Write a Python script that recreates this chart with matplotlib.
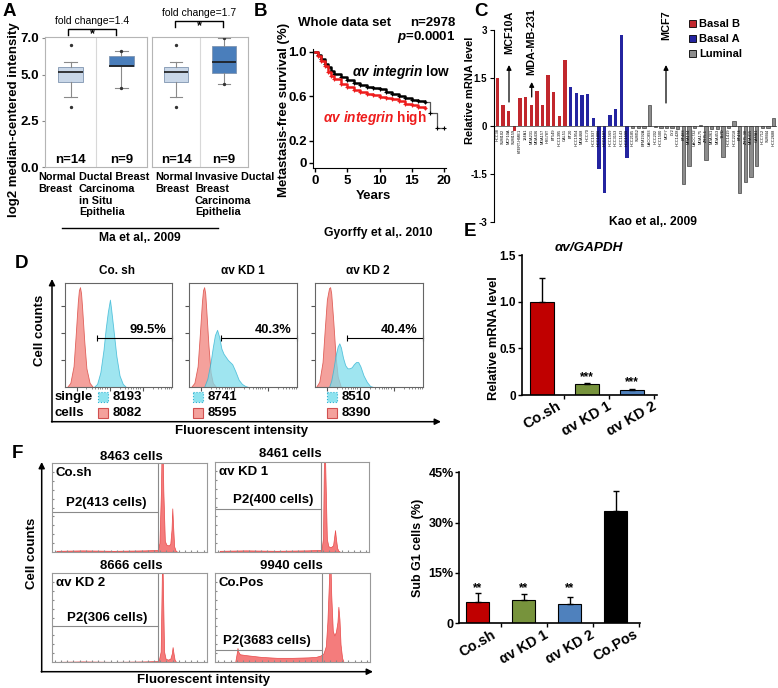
import matplotlib
matplotlib.use('Agg')
import numpy as np
import matplotlib.pyplot as plt
from matplotlib.patches import Rectangle

plt.rcParams['font.family'] = ['Liberation Sans', 'DejaVu Sans']
plt.rcParams['font.weight'] = 'bold'
plt.rcParams['axes.labelweight'] = 'bold'
plt.rcParams['mathtext.fontset'] = 'custom'
plt.rcParams['mathtext.it'] = 'Liberation Sans:italic:bold'
plt.rcParams['mathtext.rm'] = 'Liberation Sans:bold'
plt.rcParams['mathtext.bf'] = 'Liberation Sans:bold'

# ---- A: Ma et al. 2009, box stats
a_labels = ['Normal\nBreast', 'Ductal Breast\nCarcinoma\nin Situ\nEpithelia',
            'Normal\nBreast', 'Invasive Ductal\nBreast\nCarcinoma\nEpithelia']
a_n = ['n=14', 'n=9', 'n=14', 'n=9']
a_med = [5.13, 5.46, 5.13, 5.67]
a_q1 = [4.60, 5.46, 4.60, 5.08]
a_q3 = [5.44, 6.03, 5.44, 6.57]
a_lo = [3.79, 4.27, 3.79, 4.50]
a_hi = [5.67, 6.30, 5.67, 7.00]
a_out = [[6.62, 3.25], [6.30, 4.27], [6.62, 3.25], [7.00, 4.50]]
a_fold = ['fold change=1.4', 'fold change=1.7']

# ---- B: Kaplan-Meier (Gyorffy 2010)
b_t_low = [0, 0.5, 1, 1.5, 2, 2.5, 3, 4, 5, 6, 7, 8, 9, 10, 11, 12, 13, 14, 15, 16, 17, 17.8, 18.9, 20]
b_s_low = [1.0, 0.97, 0.93, 0.89, 0.86, 0.83, 0.80, 0.77, 0.745, 0.72, 0.70, 0.685, 0.67, 0.66,
           0.64, 0.62, 0.60, 0.58, 0.565, 0.555, 0.55, 0.445, 0.31, 0.31]
b_t_high = [0, 0.5, 1, 1.5, 2, 2.5, 3, 4, 5, 6, 7, 8, 9, 10, 11, 12, 13, 14, 15, 16, 17]
b_s_high = [1.0, 0.96, 0.92, 0.87, 0.82, 0.78, 0.75, 0.71, 0.68, 0.655, 0.635, 0.62, 0.61,
            0.595, 0.585, 0.57, 0.555, 0.53, 0.52, 0.50, 0.49]

# ---- C: Kao et al. 2009 cell lines
c_names_b = ['HCC38', 'SUM102', 'MCF10A', 'SUM159', 'hTERT-HME1', '184A1', 'MDA231', 'MDA436',
             'MDA157', 'HS578T', 'BT549', 'HCC1395', 'CAL51']
c_vals_b = [1.49, 0.65, 0.47, -0.15, 0.86, 0.90, 0.67, 1.08, 0.66, 1.58, 1.05, 0.31, 2.06]
c_names_a = ['BT20', 'HCC1954', 'MDA468', 'HCC70', 'HCC1937', 'HCC1806', 'HCC1187', 'HCC1569',
             'HCC3153', 'HCC1143', 'HCC1599']
c_vals_a = [1.21, 1.04, 0.96, 0.99, 0.26, -1.35, -2.10, 0.35, 0.54, 2.85, -0.99]
c_names_l = ['HCC2185', 'SUM52', 'EFM192A', 'UACC893', 'HCC202', 'HCC1500', 'MCF7', 'LY2',
             'HCC1428', 'BT483', 'MDA134', 'UACC732', 'MDA175', 'ZR75-1', 'MDA361', 'MDA453',
             'T47D', 'HCC1419', 'HCC2218', 'BT474', 'ZR75-30', 'MDA415', 'CAMA1', 'HCC712',
             'SUM44', 'HCC2688']
c_vals_l = [-0.05, -0.05, -0.05, 0.65, -0.03, -0.05, -0.05, -0.05, -0.10, -1.80, -1.25, -0.05,
            0.02, -1.07, -0.10, -0.10, -0.97, -0.05, 0.17, -2.08, -1.75, -1.58, -1.25, -0.05,
            -0.05, 0.26]

# ---- D: flow histograms (x, counts in % of frame)
d_titles = ['Co. sh', 'αv KD 1', 'αv KD 2']
d_gate = ['99.5%', '40.3%', '40.4%']
d_cyan_n = ['8193', '8741', '8510']
d_red_n = ['8082', '8595', '8390']
d_red_x = [[2, 5, 8, 10, 12, 13, 14, 15, 16, 18, 20, 23, 26],
           [2, 5, 8, 10, 12, 13, 14, 15, 16, 18, 20, 22, 25],
           [1, 4, 7, 9, 11, 13, 14, 15, 17, 19, 21, 24]]
d_red_y = [[0, 4, 20, 50, 82, 93, 96, 90, 76, 44, 18, 4, 0],
           [0, 4, 20, 50, 82, 93, 96, 90, 74, 40, 14, 4, 0],
           [0, 5, 24, 55, 84, 95, 96, 90, 62, 30, 10, 0]]
d_cyan_x = [[27, 30, 33, 36, 38, 40, 41, 42, 43, 45, 48, 51, 54, 57],
            [14, 17, 20, 22, 24, 26, 28, 30, 32, 34, 36, 38, 40, 43, 46, 49, 52, 55],
            [13, 15, 17, 19, 21, 22.5, 24, 26, 28, 30, 32, 34, 36, 38, 40, 42, 45, 48, 51, 54]]
d_cyan_y = [[0, 3, 14, 36, 56, 72, 78, 84, 76, 58, 30, 11, 3, 0],
            [0, 8, 24, 38, 50, 55, 48, 37, 32, 29, 26, 24, 22, 15, 7, 3, 1, 0],
            [0, 6, 17, 30, 39, 42, 38, 28, 21, 18, 18, 19, 22, 24, 24, 20, 11, 5, 1, 0]]

# ---- E: qPCR
e_groups = ['Co.sh', 'αv KD 1', 'αv KD 2']
e_vals = [1.0, 0.115, 0.05]
e_err = [0.25, 0.01, 0.018]
e_colors = ['#C00000', '#77933C', '#4F81BD']

# ---- F: cell cycle histograms
f_titles = ['8463 cells', '8461 cells', '8666 cells', '9940 cells']
f_names = ['Co.sh', 'αv KD 1', 'αv KD 2', 'Co.Pos']
f_p2 = ['P2(413 cells)', 'P2(400 cells)', 'P2(306 cells)', 'P2(3683 cells)']
f_hx = [[3, 20, 40, 60, 68.5, 69.5, 70.5, 71, 71.5, 72, 73, 74, 75.5, 76.5, 77.3, 77.8, 78.3, 79, 80, 81],
        [3, 20, 40, 60, 69, 70, 70.5, 71, 71.5, 72.5, 73.5, 75, 76.5, 77.2, 77.8, 78.4, 79.2, 80, 81],
        [3, 20, 40, 60, 69, 70.3, 71, 71.3, 71.7, 72.5, 73.5, 75, 76.5, 77.5, 78, 78.6, 79.3, 80, 81],
        [13, 14, 14.5, 15, 16, 20, 25, 30, 40, 50, 60, 65, 68, 70, 71.5, 72.5, 73.5, 74.2, 75, 76,
         77, 78, 79, 79.6, 80.3, 81, 82, 83]]
f_hy = [[1, 1.5, 1, 1.5, 2, 10, 70, 130, 130, 70, 12, 8, 7, 9, 25, 49, 30, 6, 1, 0],
        [1, 1.5, 1, 1.5, 2, 15, 90, 130, 90, 14, 6, 5, 7, 16, 24, 14, 4, 1, 0],
        [0.5, 1, 0.5, 1, 1.5, 12, 90, 130, 90, 12, 4, 3, 4, 10, 17, 10, 3, 1, 0],
        [0, 10, 16, 12, 9, 8, 7, 6, 5, 5, 5.5, 6, 7.5, 10, 18, 45, 90, 130, 75, 35, 30, 34, 45,
         62, 48, 20, 5, 0]]
f_gate_x = [68.8, 69.0, 68.8, 69.2]
f_gate_y = [45, 48, 40, 14]

# ---- F right: sub G1
f_groups = ['Co.sh', 'αv KD 1', 'αv KD 2', 'Co.Pos']
f_sub = [6.4, 6.9, 5.7, 33.6]
f_sub_err = [2.5, 1.8, 2.2, 5.8]
f_colors = ['#C00000', '#77933C', '#4F81BD', '#000000']

W, H = 778, 688
fig = plt.figure(figsize=(W / 100, H / 100), dpi=100)


def px_axes(x0, y0, x1, y1):
    return fig.add_axes([x0 / W, 1 - y1 / H, (x1 - x0) / W, (y1 - y0) / H])


# ================= A
box_fc = ['#c9d7e8', '#4a7ebb']
for k, (x0, x1) in enumerate([(45, 147), (152, 248)]):
    ax = px_axes(x0, 37, x1, 167)
    idx = [2 * k, 2 * k + 1]
    stats = [dict(med=a_med[j], q1=a_q1[j], q3=a_q3[j], whislo=a_lo[j], whishi=a_hi[j],
                  fliers=a_out[j]) for j in idx]
    bp = ax.bxp(stats, positions=[1, 2], widths=0.48, patch_artist=True,
                medianprops=dict(color='#1a1a1a', lw=1.2),
                whiskerprops=dict(color='#8a8a8a', lw=0.8),
                capprops=dict(color='#8a8a8a', lw=0.8),
                flierprops=dict(marker='o', ms=1.4, mfc='#333', mec='#333'))
    for p, c in zip(bp['boxes'], box_fc):
        p.set_facecolor(c)
        p.set_edgecolor('#7f95b0')
        p.set_linewidth(0.6)
    ax.axvline(1.5, color='#d8d8d8', lw=0.8)
    ax.set_xlim(0.5, 2.5)
    ax.set_ylim(0, 7.05)
    ax.set_xticks([])
    for sp in ax.spines.values():
        sp.set_color('#b5b5b5')
        sp.set_linewidth(0.8)
    for j, pos in zip(idx, (1, 2)):
        ax.text(pos, 0.08, a_n[j], ha='center', va='bottom', fontsize=9.5)
    if k == 0:
        ax.set_yticks([0, 2.5, 5, 7], ['0.0', '2.5', '5.0', '7.0'], fontsize=9.5)
        ax.tick_params(axis='y', length=2.5, color='#888', pad=2)
    else:
        ax.set_yticks([])

# ================= B
ax = px_axes(313, 49.5, 446, 168.3)
n_main = b_t_low.index(17) + 1
ax.step(b_t_low[:n_main], b_s_low[:n_main], where='post', color='k', lw=1.8)
ax.step(b_t_low[n_main - 1:], b_s_low[n_main - 1:], where='post', color='#555', lw=0.9)
ax.plot(b_t_low[1:], b_s_low[1:], '+', color='k', ms=3, mew=0.8)
ax.step(b_t_high, b_s_high, where='post', color='#ee1c1c', lw=1.8)
ax.plot(b_t_high[1:], b_s_high[1:], '+', color='#ee1c1c', ms=3, mew=0.8)
ax.set_xlim(-0.3, 20.3)
ax.set_ylim(-0.05, 1.02)
ax.set_yticks([0, 0.2, 0.6, 1.0], ['0', '0.2', '0.6', '1.0'])
ax.set_xticks([0, 5, 10, 15, 20])
ax.tick_params(labelsize=9.5, length=3, width=1, pad=1.5)
ax.spines['top'].set_visible(False)
ax.spines['right'].set_visible(False)

# ================= C
ax = px_axes(494, 30, 777, 222)
nb, na, nl = len(c_vals_b), len(c_vals_a), len(c_vals_l)
xb = np.arange(nb)
xa = np.arange(nb, nb + na)
xl = np.arange(nb + na, nb + na + nl)
ax.bar(xb, c_vals_b, width=0.6, color='#C1272D', label='Basal B')
ax.bar(xa, c_vals_a, width=0.6, color='#2424A0', label='Basal A')
ax.bar(xl, c_vals_l, width=0.6, color='#8c8c8c', edgecolor='#222', lw=0.4, label='Luminal')
ax.axhline(0, color='#333', lw=0.5)
for x, name in zip(np.concatenate([xb, xa, xl]), c_names_b + c_names_a + c_names_l):
    ax.text(x, -0.08, name, rotation=90, ha='center', va='top', fontsize=2.8, fontweight='normal')
ax.set_xlim(-0.6, nb + na + nl - 0.4)
ax.set_ylim(-3, 3)
ax.set_yticks([3, 1.5, 0, -1.5, -3], ['3', '1.5', '0', '-1.5', '-3'])
ax.set_xticks([])
ax.tick_params(axis='y', labelsize=7, length=3, pad=2)
for s in ['top', 'right', 'bottom']:
    ax.spines[s].set_visible(False)
leg = ax.legend(loc='upper left', bbox_to_anchor=(685 / W, 1 - 15 / H), bbox_transform=fig.transFigure,
                frameon=False, fontsize=8, handlelength=0.6, handleheight=0.6, handletextpad=0.3,
                labelspacing=0.45, borderaxespad=0)
for h in leg.legend_handles:
    h.set_edgecolor('k')
    h.set_linewidth(0.6)

# ================= D
d_frames = [(65, 283, 172, 387), (189, 283, 297, 387), (315, 283, 423, 387)]
minor_x = [20, 25, 28, 31, 33, 35, 37, 39, 51, 56, 59, 62, 64, 66, 68, 70, 82, 87, 90, 93, 95, 97, 99]
for i, fr in enumerate(d_frames):
    ax = px_axes(*fr)
    ax.fill_between(d_red_x[i], d_red_y[i], color='#F4A19C', edgecolor='#E0605A', lw=0.6)
    ax.fill_between(d_cyan_x[i], d_cyan_y[i], color='#7FDDEB', edgecolor='#2FB3D3', lw=0.6, alpha=0.75)
    ax.plot([30, 100], [47, 47], color='k', lw=0.8, marker='|', ms=5, mew=0.8, clip_on=False)
    ax.text(95, 55, d_gate[i], ha='right', va='center', fontsize=9.3)
    ax.set_xlim(0, 100)
    ax.set_ylim(0, 100)
    ax.set_yticks([26, 52, 78], [])
    ax.set_xticks([11, 42, 73], [])
    ax.set_xticks(minor_x, minor=True)
    ax.tick_params(which='major', length=3, color='#555', direction='out')
    ax.tick_params(which='minor', length=1.5, color='#777', direction='out')
    for sp in ax.spines.values():
        sp.set_color('#666')
        sp.set_linewidth(0.8)

# ================= E
ax = px_axes(521.7, 255, 656.7, 395)
ex = np.arange(len(e_vals))
ax.bar(ex, e_vals, width=0.52, color=e_colors, edgecolor='k', lw=0.8,
       yerr=[np.zeros(len(e_err)), e_err], capsize=2.5, error_kw=dict(lw=1, capthick=1))
for x, v, e in zip(ex[1:], e_vals[1:], e_err[1:]):
    ax.text(x, v + e + 0.005, '***', ha='center', va='bottom', fontsize=8.5)
ax.set_xlim(-0.45, 2.55)
ax.set_ylim(0, 1.5)
ax.set_yticks([0, 0.5, 1.0, 1.5], ['0', '0.5', '1.0', '1.5'])
ax.set_xticks(ex, e_groups, rotation=30, fontsize=10.5)
ax.set_xticks([0.5, 1.5, 2.5], minor=True)
ax.tick_params(axis='x', which='major', length=0, pad=3)
ax.tick_params(axis='x', which='minor', length=3, width=1)
ax.tick_params(axis='y', labelsize=8.5, length=3, width=1, pad=1)
ax.spines['top'].set_visible(False)
ax.spines['right'].set_visible(False)
ax.spines['left'].set_linewidth(1.2)
ax.spines['bottom'].set_linewidth(1.2)

# ================= F left
f_frames = [(51.7, 463.3, 206.7, 551.7), (215, 461.7, 369.3, 551.7),
            (51.7, 572.7, 206.7, 662.3), (215, 572.7, 370, 662.3)]
f_p2_pos = [(35.5, 48), (37.7, 51), (35.5, 43), (33.4, 17)]
for i, fr in enumerate(f_frames):
    ax = px_axes(*fr)
    ax.fill_between(f_hx[i], f_hy[i], color='#F47C7C', edgecolor='#E84848', lw=0.5)
    ax.axvline(f_gate_x[i], color='#8a8a8a', lw=0.8)
    ax.plot([0, f_gate_x[i]], [f_gate_y[i], f_gate_y[i]], color='#8a8a8a', lw=0.8)
    ax.text(f_p2_pos[i][0], f_p2_pos[i][1], f_p2[i], ha='center', va='bottom', fontsize=9.5)
    ax.text(2.5, 89, f_names[i], ha='left', va='center', fontsize=9.5)
    ax.set_xlim(0, 100)
    ax.set_ylim(0, 100)
    ax.set_xticks(range(2, 100, 4), [])
    ax.set_yticks(range(10, 100, 10), [])
    ax.tick_params(length=1.5, color='#888', direction='in')
    for sp in ax.spines.values():
        sp.set_color('#999')
        sp.set_linewidth(0.8)

# ================= F right
ax = px_axes(459.3, 472.3, 640, 623.3)
fx = np.arange(len(f_sub))
ax.bar(fx, f_sub, width=0.49, color=f_colors, edgecolor='k', lw=0.8,
       yerr=[np.zeros(len(f_sub_err)), f_sub_err], capsize=2.5, error_kw=dict(lw=1, capthick=1))
for x in fx[:3]:
    ax.text(x, 8.6, '**', ha='center', va='bottom', fontsize=8.5)
ax.set_xlim(-0.4, 3.53)
ax.set_ylim(0, 45)
ax.set_yticks([0, 15, 30, 45], ['0', '15%', '30%', '45%'])
ax.set_xticks(fx, f_groups, rotation=30, fontsize=10.3)
ax.set_xticks([0.5, 1.5, 2.5, 3.5], minor=True)
ax.tick_params(axis='x', which='major', length=0, pad=3)
ax.tick_params(axis='x', which='minor', length=3, width=1)
ax.tick_params(axis='y', labelsize=9, length=3, width=1, pad=1)
ax.spines['top'].set_visible(False)
ax.spines['right'].set_visible(False)
ax.spines['left'].set_linewidth(1.2)
ax.spines['bottom'].set_linewidth(1.2)

# ================= overlay for free text / arrows (pixel coords)
bg = fig.add_axes([0, 0, 1, 1])
bg.set_xlim(0, W)
bg.set_ylim(H, 0)
bg.axis('off')
bg.set_zorder(10)


def txt(x, y, s, **kw):
    kw.setdefault('ha', 'center')
    kw.setdefault('va', 'center')
    bg.text(x, y, s, **kw)


arrow = dict(arrowstyle='-|>', color='k', lw=1.1, mutation_scale=9, shrinkA=0, shrinkB=0)

# panel letters
for s, x, y in [('A', 9, 12), ('B', 261, 12), ('C', 481, 12), ('D', 22, 264), ('E', 470, 232), ('F', 17, 453)]:
    txt(x, y, s, fontsize=13.5)

# A text
txt(14, 120, 'log2 median-centered intensity', rotation=90, fontsize=9.5)
for s, x in zip(a_labels, [38, 79, 155, 195]):
    txt(x, 172, s, ha='left', va='top', fontsize=7.8, linespacing=1.22)
bg.plot([62, 218], [228, 228], color='k', lw=1)
txt(140, 238, 'Ma et al,. 2009', fontsize=8.7)
for (xa0, xa1, yb), s in zip([(68, 116, 29), (175, 223, 21)], a_fold):
    bg.plot([xa0, xa0, xa1, xa1], [yb + 6, yb, yb, yb + 6], color='k', lw=1)
    txt((xa0 + xa1) / 2, yb + 5, '*', fontsize=9)
    txt((xa0 + xa1) / 2, yb - 8, s, fontsize=7.5, fontweight='normal')

# B text
txt(345, 23, 'Whole data set', fontsize=9.5)
txt(455, 23, 'n=2978', ha='right', fontsize=9.5)
txt(455, 37, '$p$=0.0001', ha='right', fontsize=9.5)
txt(352, 72, r'$\mathit{αv\ integrin}$ low', ha='left', fontsize=9.8)
txt(323, 118, r'$\mathit{αv\ integrin}$ high', ha='left', fontsize=9.8, color='#ee1c1c')
txt(284, 110, 'Metastasis-free survival (%)', rotation=90, fontsize=9.5)
txt(373, 196, 'Years', fontsize=9.5)
txt(378, 233, 'Gyorffy et al,. 2010', fontsize=8.7)

# C text
txt(470, 90, 'Relative mRNA level', rotation=90, fontsize=8)
txt(653, 222, 'Kao et al,. 2009', fontsize=8.7)
for s, x, yt, y0, y1 in [('MCF10A', 509, 32, 102, 65), ('MDA-MB-231', 531.7, 42, 97, 82),
                          ('MCF7', 666, 25, 103, 65)]:
    txt(x, yt, s, rotation=90, fontsize=7.8)
    bg.annotate('', xy=(x, y1), xytext=(x, y0), arrowprops=dict(arrow, lw=0.9, mutation_scale=7))

# D text
for s, x in zip(d_titles, [117, 243, 368]):
    txt(x, 271, s, fontsize=8.5)
txt(55, 397, 'single', ha='left', fontsize=9.5)
txt(55, 413, 'cells', ha='left', fontsize=9.5)
for i, x in enumerate([98, 193, 327]):
    bg.add_patch(Rectangle((x, 391.5), 10.5, 10.5, facecolor='#8FE3EF', edgecolor='#2FB3D3', lw=0.8, ls=':'))
    bg.add_patch(Rectangle((x, 407.5), 10.5, 10.5, facecolor='#F4A19C', edgecolor='#D05050', lw=0.8))
    txt(x + 15, 397, d_cyan_n[i], ha='left', fontsize=9.5)
    txt(x + 15, 413, d_red_n[i], ha='left', fontsize=9.5)
bg.annotate('', xy=(52, 279), xytext=(52, 422), arrowprops=arrow)
bg.annotate('', xy=(441, 421.7), xytext=(51.5, 421.7), arrowprops=arrow)
txt(40, 330, 'Cell counts', rotation=90, fontsize=9.5)
txt(242, 431, 'Fluorescent intensity', fontsize=9.5)

# E text
txt(589, 248, 'αv/GAPDH', fontsize=9.7, style='italic')
txt(494, 338, 'Relative mRNA level', rotation=90, fontsize=9.3)

# F text
for s, x, y in zip(f_titles, [131.7, 290.7, 131, 291.7], [456.7, 454, 566, 566]):
    txt(x, y, s, fontsize=9.5)
bg.annotate('', xy=(41.7, 462), xytext=(41.7, 672), arrowprops=arrow)
bg.annotate('', xy=(373, 671.7), xytext=(41.2, 671.7), arrowprops=arrow)
txt(31.7, 553, 'Cell counts', rotation=90, fontsize=9.5)
txt(204, 680, 'Fluorescent intensity', fontsize=9.5)
txt(418.3, 548, 'Sub G1 cells (%)', rotation=90, fontsize=9)

fig.savefig('out.png', dpi=100)
